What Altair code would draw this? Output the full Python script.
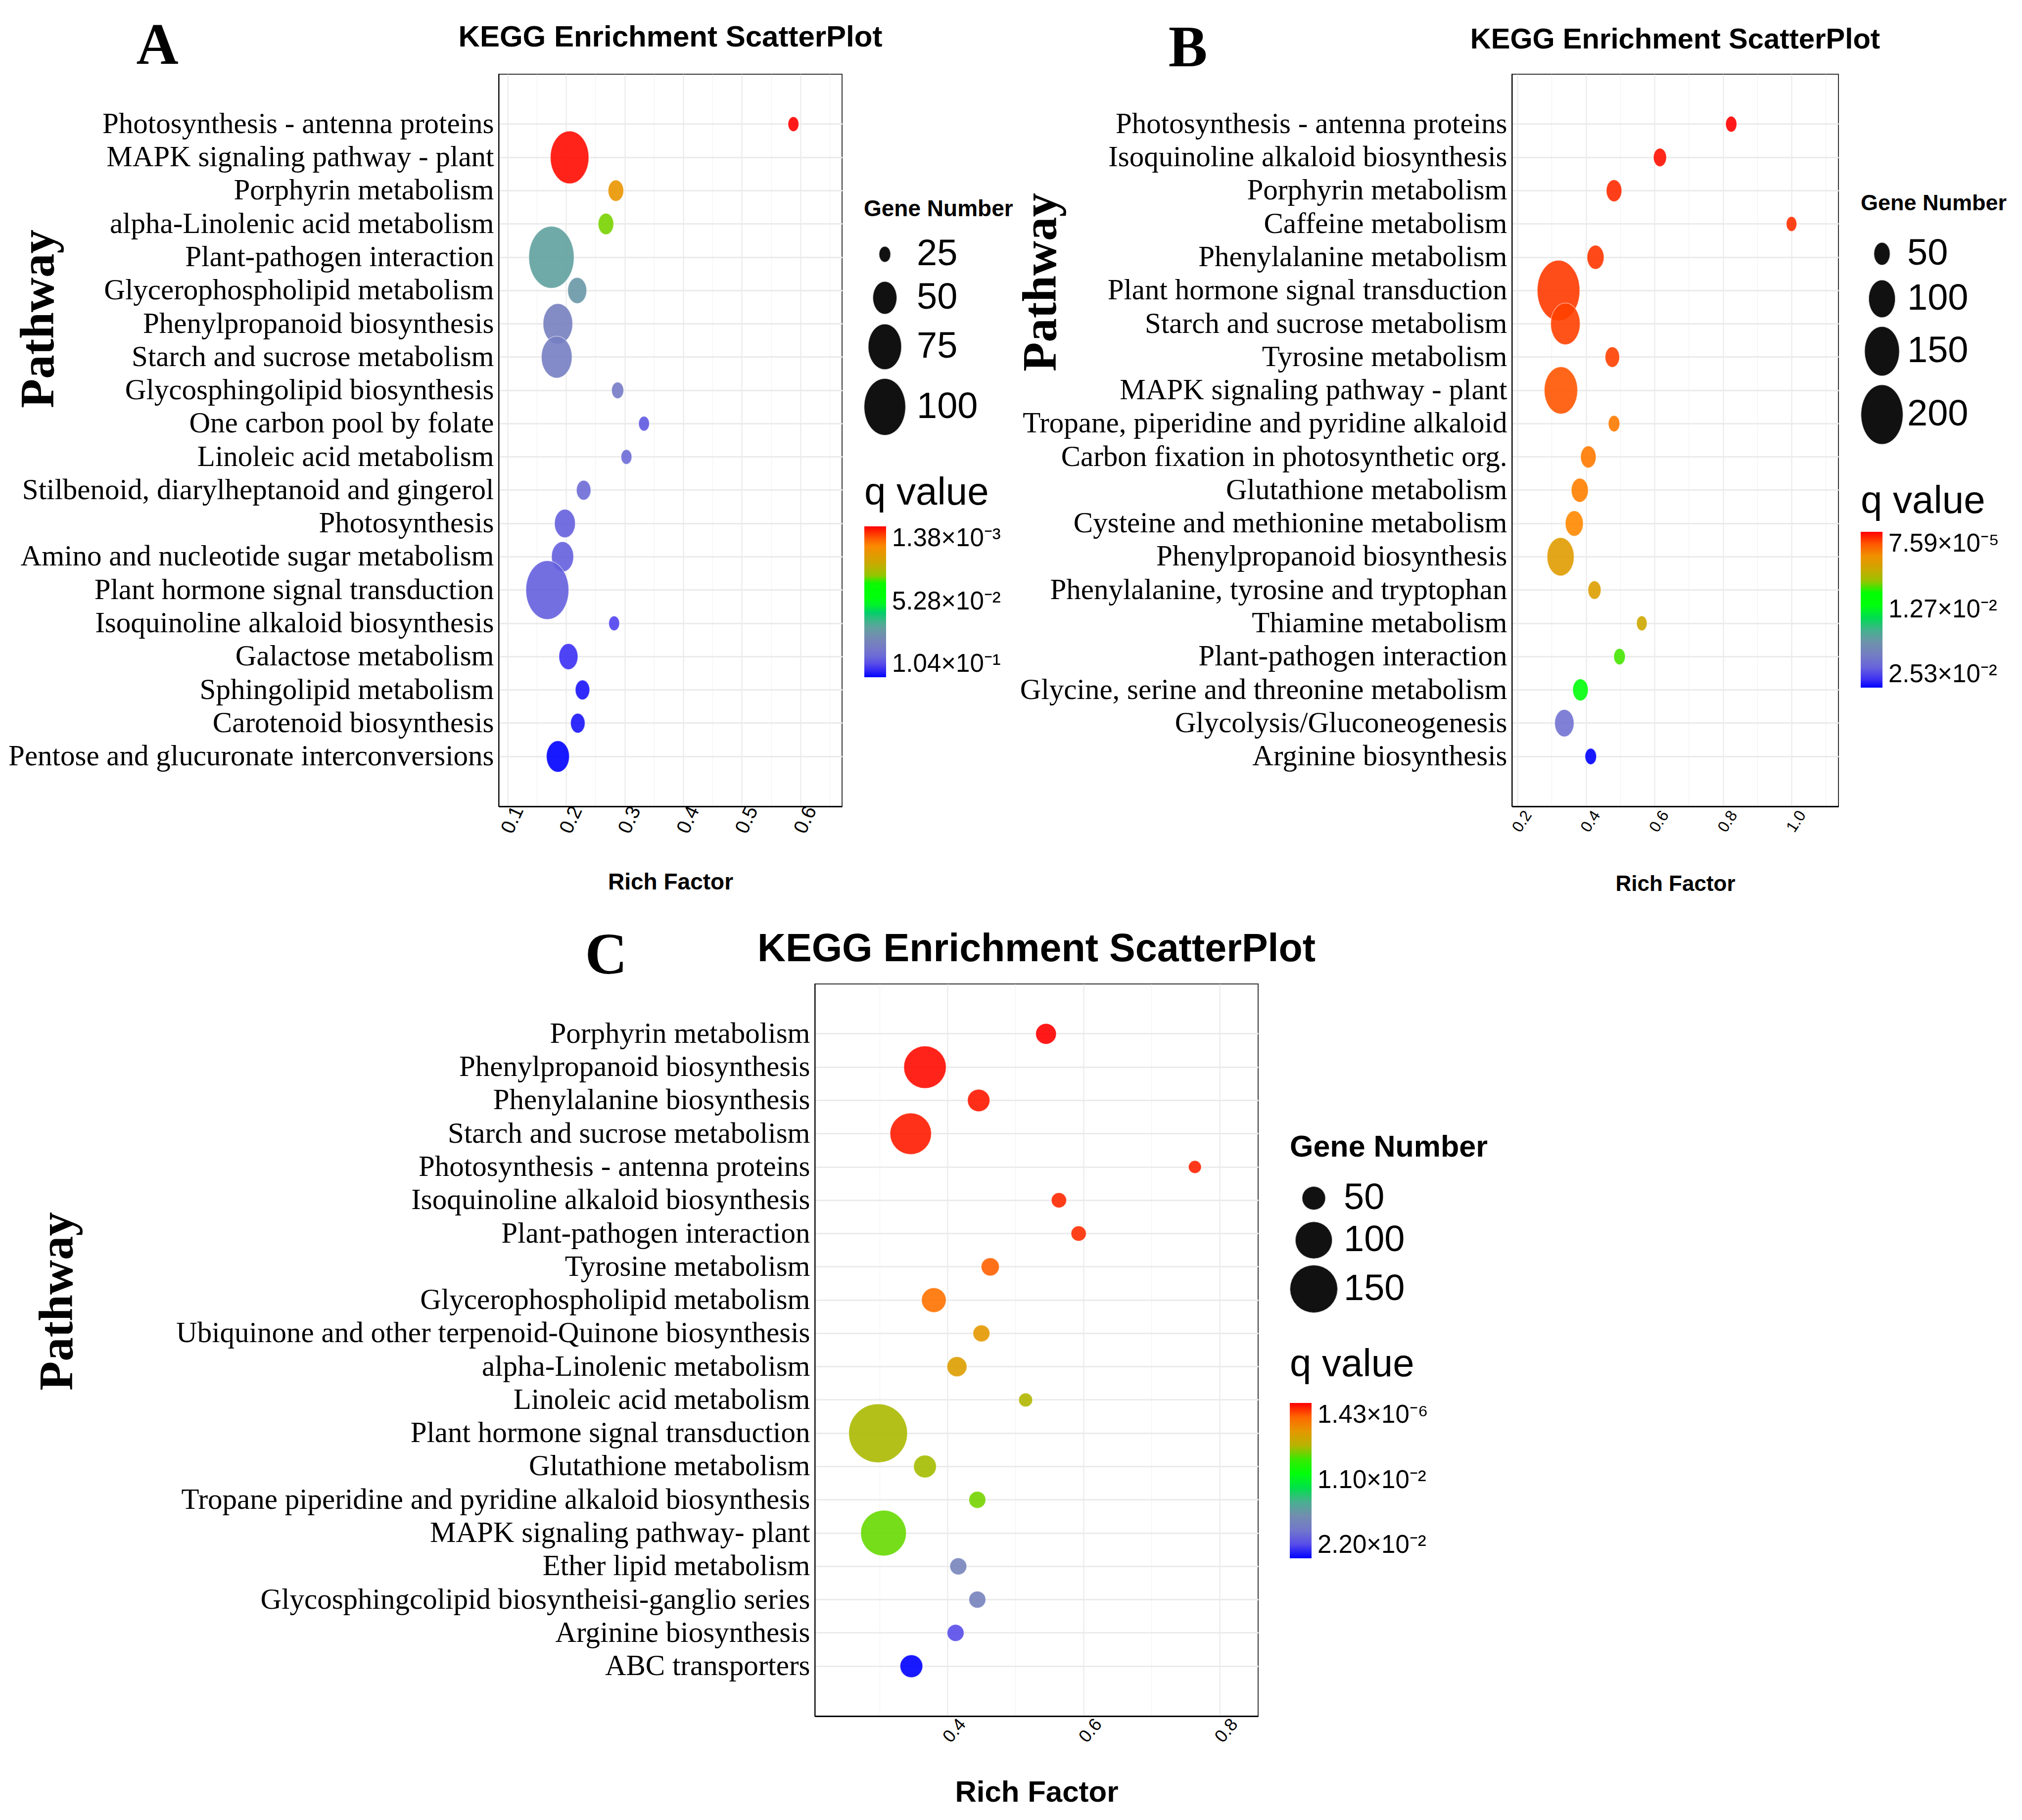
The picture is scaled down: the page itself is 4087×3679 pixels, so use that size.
import json
import altair as alt
import pandas as pd

# ---------------- Panel A ----------------
a_pathways = [
    "Photosynthesis - antenna proteins", "MAPK signaling pathway - plant", "Porphyrin metabolism",
    "alpha-Linolenic acid metabolism", "Plant-pathogen interaction", "Glycerophospholipid metabolism",
    "Phenylpropanoid biosynthesis", "Starch and sucrose metabolism", "Glycosphingolipid biosynthesis",
    "One carbon pool by folate", "Linoleic acid metabolism", "Stilbenoid, diarylheptanoid and gingerol",
    "Photosynthesis", "Amino and nucleotide sugar metabolism", "Plant hormone signal transduction",
    "Isoquinoline alkaloid biosynthesis", "Galactose metabolism", "Sphingolipid metabolism",
    "Carotenoid biosynthesis", "Pentose and glucuronate interconversions"]
a_rich = [0.588, 0.206, 0.285, 0.268, 0.175, 0.219, 0.186, 0.184, 0.288, 0.333,
          0.303, 0.230, 0.198, 0.194, 0.168, 0.282, 0.204, 0.228, 0.220, 0.186]
a_genes = [24, 91, 32, 32, 113, 39, 65, 68, 26, 24, 24, 30, 43, 46, 105, 24, 39, 30, 30, 48]
a_q = [0.00138, 0.0024, 0.0188, 0.0368, 0.0701, 0.0732, 0.0814, 0.0824, 0.0835, 0.0927,
       0.0896, 0.0896, 0.0917, 0.0917, 0.0917, 0.0968, 0.0989, 0.1019, 0.1019, 0.1042]
a_size_legend = [25, 50, 75, 100]
a_x_major = [0.1, 0.2, 0.3, 0.4, 0.5, 0.6]
a_x_minor = [0.15, 0.25, 0.35, 0.45, 0.55, 0.65]

# ---------------- Panel B ----------------
b_pathways = [
    "Photosynthesis - antenna proteins", "Isoquinoline alkaloid biosynthesis", "Porphyrin metabolism",
    "Caffeine metabolism", "Phenylalanine metabolism", "Plant hormone signal transduction",
    "Starch and sucrose metabolism", "Tyrosine metabolism", "MAPK signaling pathway - plant",
    "Tropane, piperidine and pyridine alkaloid", "Carbon fixation in photosynthetic org.",
    "Glutathione metabolism", "Cysteine and methionine metabolism", "Phenylpropanoid biosynthesis",
    "Phenylalanine, tyrosine and tryptophan", "Thiamine metabolism", "Plant-pathogen interaction",
    "Glycine, serine and threonine metabolism", "Glycolysis/Gluconeogenesis", "Arginine biosynthesis"]
b_rich = [0.824, 0.616, 0.482, 1.0, 0.428, 0.320, 0.340, 0.477, 0.327, 0.482,
          0.407, 0.382, 0.366, 0.326, 0.425, 0.563, 0.498, 0.384, 0.337, 0.414]
b_genes = [33, 39, 48, 31, 54, 205, 117, 44, 141, 34, 48, 54, 58, 103, 39, 31, 34, 48, 64, 34]
b_q = [0.0000759, 0.00043, 0.00101, 0.00113, 0.00126, 0.00136, 0.00149, 0.00149, 0.00197, 0.0028,
       0.0028, 0.00292, 0.0031, 0.00494, 0.00512, 0.00613, 0.00916, 0.01143, 0.02127, 0.0253]
b_size_legend = [50, 100, 150, 200]
b_x_major = [0.2, 0.4, 0.6, 0.8, 1.0]
b_x_minor = [0.3, 0.5, 0.7, 0.9, 1.1]

# ---------------- Panel C ----------------
c_pathways = [
    "Porphyrin metabolism", "Phenylpropanoid biosynthesis", "Phenylalanine  biosynthesis",
    "Starch and sucrose metabolism", "Photosynthesis - antenna proteins", "Isoquinoline alkaloid biosynthesis",
    "Plant-pathogen interaction", "Tyrosine metabolism", "Glycerophospholipid metabolism",
    "Ubiquinone and other terpenoid-Quinone biosynthesis", "alpha-Linolenic metabolism",
    "Linoleic acid metabolism", "Plant hormone signal transduction", "Glutathione metabolism",
    "Tropane piperidine and pyridine alkaloid biosynthesis", "MAPK signaling pathway- plant",
    "Ether lipid metabolism", "Glycosphingcolipid biosyntheisi-ganglio series", "Arginine biosynthesis",
    "ABC transporters"]
c_rich = [0.545, 0.367, 0.446, 0.346, 0.764, 0.564, 0.593, 0.463, 0.380, 0.450,
          0.414, 0.515, 0.298, 0.367, 0.444, 0.306, 0.416, 0.444, 0.412, 0.347]
c_genes = [42, 125, 47, 120, 23, 28, 28, 35, 54, 32, 40, 25, 211, 48, 32, 140, 32, 32, 32, 48]
c_q = [0.00000143, 0.00022, 0.00044, 0.00055, 0.00066, 0.00077, 0.00088, 0.00187, 0.0022, 0.0040,
       0.0044, 0.0062, 0.0064, 0.0066, 0.0076, 0.0077, 0.0167, 0.0169, 0.0200, 0.0220]
c_size_legend = [50, 100, 150]
c_x_major = [0.4, 0.6, 0.8]
c_x_minor = [0.3, 0.5, 0.7]

# ---------------- styling ----------------
SANS = "Liberation Sans, Arial, sans-serif"
SERIF = "Liberation Serif, Times New Roman, serif"
GRAD_T = [0, 0.12, 0.25, 0.34, 0.38, 0.50, 0.57, 0.65, 0.74, 0.85, 0.93, 1.0]
GRAD_C = ["#FF0000", "#FF8800", "#C8AA00", "#88CC00", "#00FF00", "#00FF10", "#00D068",
          "#58A898", "#7888B4", "#7070D4", "#5040F0", "#0000FF"]
SUP = str.maketrans("-0123456789", "⁻⁰¹²³⁴⁵⁶⁷⁸⁹")


def sci(v):
    m, e = f"{v:.2e}".split("e")
    return f"{m}×10{str(int(e)).translate(SUP)}"


def ellipse(ry):
    k = 0.5523
    f = lambda v: f"{v:.4f}"
    return (f"M0,{f(-ry)}C{f(k)},{f(-ry)},1,{f(-k*ry)},1,0C1,{f(k*ry)},{f(k)},{f(ry)},0,{f(ry)}"
            f"C{f(-k)},{f(ry)},-1,{f(k*ry)},-1,0C-1,{f(-k*ry)},{f(-k)},{f(-ry)},0,{f(-ry)}Z")


def panel(p):
    df = pd.DataFrame({"Pathway": p["pathways"], "Rich": p["rich"], "Genes": p["genes"], "q": p["q"]})
    shape = ellipse(p["aspect"]) if p["aspect"] != 1 else "circle"
    maj = json.dumps(p["major"])
    test = f"indexof({maj}, datum.value) >= 0"
    ticks = sorted(p["major"] + p["minor"])
    qmin, qmax = min(p["q"]), max(p["q"])
    qvals = [qmin, (qmin + qmax) / 2, qmax]
    nvals = [-v for v in qvals]
    qlabels = [sci(v) for v in qvals]
    cdom = [-(qmin + t * (qmax - qmin)) for t in reversed(GRAD_T)]
    crng = list(reversed(GRAD_C))
    v0, v1 = p["size_dom"]
    srng = [(p["sa"] + p["sb"] * v ** 0.5) ** 2 for v in (v0, v1)]

    x = alt.X("Rich:Q", title="Rich Factor",
              scale=alt.Scale(domain=p["xdomain"], nice=False, zero=False),
              axis=alt.Axis(values=ticks, grid=True, ticks=False,
                            labelExpr=f"{test} ? format(datum.value, '.1f') : ''",
                            labelAngle=p["langle"], labelAlign="center", labelBaseline="middle",
                            labelPadding=p["lpad"], labelOffset=p["loff"], labelFont=SANS,
                            labelFontSize=p["lsize"], labelColor="black",
                            domainColor="black", domainWidth=3,
                            gridColor={"condition": {"test": test, "value": "#EBEBEB"}, "value": "#F3F3F3"},
                            gridWidth={"condition": {"test": test, "value": 2.2}, "value": 1.3},
                            titleFont=SANS, titleFontSize=p["rf_size"], titleFontWeight="bold",
                            titleColor="black", titleY=p["rf_y"], titleBaseline="middle"))
    y = alt.Y("Pathway:N", sort=p["pathways"], title="Pathway",
              scale=alt.Scale(type="band", paddingInner=0, paddingOuter=1),
              axis=alt.Axis(grid=True, ticks=False, bandPosition=0.5, gridColor="#EBEBEB", gridWidth=3,
                            labelFont=SERIF, labelFontSize=59, labelColor="black", labelPadding=10,
                            labelLimit=3000, domainColor="black", domainWidth=2,
                            titleFont=SERIF, titleFontSize=97, titleFontWeight="bold", titleColor="black",
                            titleX=p["pw_x"], titleY=p["pw_y"], titleAngle=270, titleBaseline="middle",
                            titleAlign="center"))
    size = alt.Size("Genes:Q",
                    scale=alt.Scale(type="pow", exponent=p["sexp"], domain=[v0, v1], range=srng,
                                    zero=False, nice=False),
                    legend=alt.Legend(title="Gene Number", values=p["size_legend"], orient="none",
                                      legendX=p["gn_x"], legendY=p["gn_y"], symbolType=shape,
                                      symbolFillColor="#111111", symbolStrokeColor="#BBBBBB",
                                      symbolStrokeWidth=1, symbolOpacity=1,
                                      labelFont=SANS, labelFontSize=74, labelColor="black",
                                      labelOffset=p["gn_loff"], labelLimit=1000,
                                      titleFont=SANS, titleFontSize=p["gn_size"], titleFontWeight="bold",
                                      titleColor="black", titlePadding=p["gn_tpad"], titleLimit=1000,
                                      rowPadding=p["gn_rpad"]))
    color = alt.Color("nq:Q",
                      scale=alt.Scale(domain=cdom, range=crng, interpolate="rgb", zero=False, nice=False),
                      legend=alt.Legend(title="q value", values=nvals,
                                        labelExpr=f"{json.dumps(qlabels, ensure_ascii=False)}[indexof({json.dumps(nvals)}, datum.value)]",
                                        orient="none", legendX=p["qv_x"], legendY=p["qv_y"],
                                        direction="vertical", gradientLength=p["glen"], gradientThickness=44,
                                        gradientStrokeWidth=0, labelFont=SANS, labelFontSize=51,
                                        labelColor="black", labelOffset=12, labelLimit=1000,
                                        titleFont=SANS, titleFontSize=78, titleFontWeight="normal",
                                        titleColor="black", titlePadding=p["qv_tpad"], titleLimit=1000))
    points = alt.Chart(df).transform_calculate(nq="-datum.q").mark_point(
        shape=shape, filled=True, fillOpacity=0.9, stroke="white", strokeWidth=1.5, strokeOpacity=0.5
    ).encode(x=x, y=y, size=size, color=color)
    anno = pd.DataFrame({"a": [0]})
    letter = alt.Chart(anno).mark_text(text=p["letter"], font=SERIF, fontSize=118, fontWeight="bold",
                                       align="center", baseline="alphabetic", color="black").encode(
        x=alt.value(p["let_x"]), y=alt.value(p["let_y"]))
    heading = alt.Chart(anno).mark_text(text="KEGG Enrichment ScatterPlot", font=SANS,
                                        fontSize=p["head_size"], fontWeight="bold", align="center",
                                        baseline="alphabetic", color="black").encode(
        x=alt.value(p["width"] / 2), y=alt.value(p["head_y"]))
    return alt.layer(points, letter, heading).properties(width=p["width"], height=p["height"])


A = panel(dict(pathways=a_pathways, rich=a_rich, genes=a_genes, q=a_q, size_legend=a_size_legend,
               major=a_x_major, minor=a_x_minor, aspect=1.37, xdomain=[0.085, 0.671],
               size_dom=[20, 130], sexp=1.4, sa=-40, sb=12.4,
               langle=295, lpad=27, loff=10, lsize=40, rf_size=46, rf_y=153,
               pw_x=-930, pw_y=494, gn_x=738, gn_y=251, gn_size=46, gn_loff=22, gn_tpad=30, gn_rpad=14,
               qv_x=739, qv_y=808, qv_tpad=28, glen=305, letter="A", let_x=-690, let_y=-21,
               head_size=60, head_y=-56, width=694, height=1480))
B = panel(dict(pathways=b_pathways, rich=b_rich, genes=b_genes, q=b_q, size_legend=b_size_legend,
               major=b_x_major, minor=b_x_minor, aspect=1.42, xdomain=[0.184, 1.137],
               size_dom=[25, 250], sexp=1.25, sa=-21, sb=7.5,
               langle=303, lpad=30, loff=9, lsize=32, rf_size=44, rf_y=157,
               pw_x=-952, pw_y=420, gn_x=705, gn_y=239, gn_size=45, gn_loff=8, gn_tpad=42, gn_rpad=14,
               qv_x=705, qv_y=825, qv_tpad=22, glen=315, letter="B", let_x=-655, let_y=-16,
               head_size=58, head_y=-52, width=660, height=1480))
C = panel(dict(pathways=c_pathways, rich=c_rich, genes=c_genes, q=c_q, size_legend=c_size_legend,
               major=c_x_major, minor=c_x_minor, aspect=1, xdomain=[0.205, 0.857],
               size_dom=[15, 250], sexp=1.2, sa=-21.2, sb=9.65,
               langle=310, lpad=29, loff=14, lsize=36, rf_size=60, rf_y=154,
               pw_x=-1531, pw_y=641, gn_x=960, gn_y=301, gn_size=61, gn_loff=12, gn_tpad=34, gn_rpad=8,
               qv_x=960, qv_y=731, qv_tpad=38, glen=314, letter="C", let_x=-422, let_y=-21,
               head_size=79, head_y=-46, width=896, height=1480))

spacer = alt.Chart(pd.DataFrame({"a": [0]})).mark_point(opacity=0).encode(
    x=alt.X("a:Q", axis=None), y=alt.Y("a:Q", axis=None)
).properties(width=629, height=20, view=alt.ViewBackground(strokeOpacity=0))


def indep(c):
    return c.resolve_scale(color="independent", size="independent", x="independent", y="independent") \
            .resolve_legend(color="independent", size="independent")


row1 = indep(alt.hconcat(A, B, spacing=1354, bounds="flush"))
row2 = indep(alt.hconcat(spacer, C, spacing=10, bounds="flush"))
chart = indep(alt.vconcat(row1, row2, spacing=1839, bounds="flush")).configure_view(
    stroke="#333333", strokeWidth=2
).properties(padding={"left": 7, "top": 26, "right": 5, "bottom": 5})

chart.save("out.html", embed_options={"renderer": "svg", "actions": False})
